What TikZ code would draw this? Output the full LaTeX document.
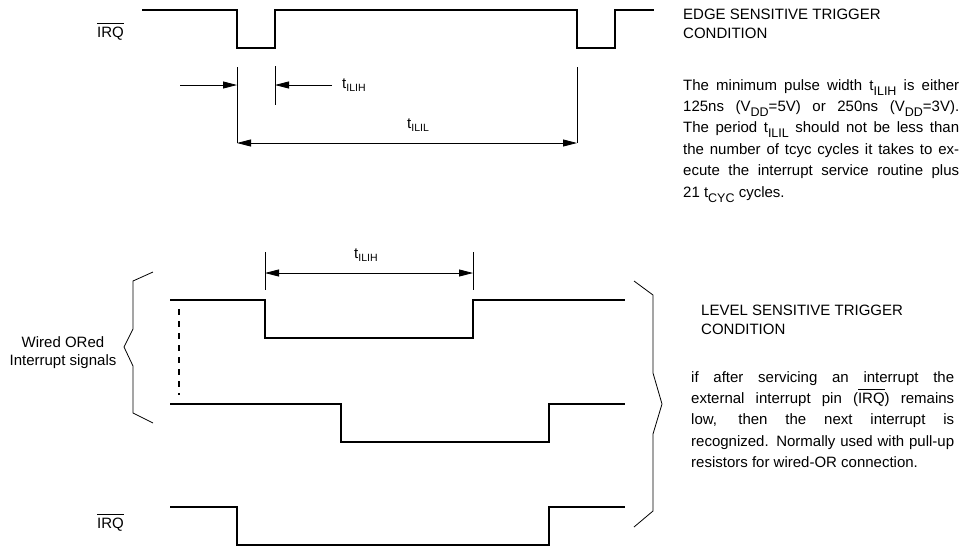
\documentclass[tikz,border=0pt]{standalone}
\usepackage{fontspec}
\setmainfont{Liberation Sans}
\usetikzlibrary{arrows.meta}
\newcommand\ovl[1]{\leavevmode\vbox{\hrule height 0.8pt\kern 3.2pt\hbox{#1}}}
\newcommand\lsub[1]{\raisebox{-3pt}{\fontsize{10.5}{10.5}\selectfont #1}}
\newcommand\psub[1]{\raisebox{-5pt}{\fontsize{12.5}{12.5}\selectfont #1}}
\begin{document}
\begin{tikzpicture}[x=1pt,y=-1pt,
  wave/.style={line width=1.7pt, line join=miter, line cap=butt},
  dim/.style={line width=0.8pt},
  arr/.style={dim,-{Triangle[length=14pt,width=7pt]}},
  darr/.style={dim,{Triangle[length=14pt,width=7pt]}-{Triangle[length=14pt,width=7pt]}},
  brace/.style={line width=0.8pt, line join=miter},
  lbl/.style={inner sep=0pt, font=\fontsize{15}{19}\selectfont},
  para/.style={inner sep=0pt, anchor=north west, align=justify, font=\fontsize{15}{21.4}\selectfont}]
\useasboundingbox (0,0) rectangle (962,550);

% ---------- edge sensitive ----------
\draw[wave] (142,10) -- (237,10) -- (237,48) -- (275,48) -- (275,10) -- (577,10) -- (577,48) -- (615,48) -- (615,10) -- (654,10);
\node[lbl, anchor=base west] (irqa) at (97,37) {\ovl{IRQ}};

\coordinate (ta1) at (237,67);  \coordinate (ta2) at (237,143);
\coordinate (tb1) at (275,66);  \coordinate (tb2) at (275,105);
\coordinate (tc1) at (577,67);  \coordinate (tc2) at (577,143);
\draw[dim] (ta1) -- (ta2);
\draw[dim] (tb1) -- (tb2);
\draw[dim] (tc1) -- (tc2);
\coordinate (al) at (180,85); \coordinate (ae) at (237,85);
\coordinate (ar) at (332,85); \coordinate (be) at (275,85);
\draw[arr] (al) -- (ae);
\draw[arr] (ar) -- (be);
\draw[darr] (ta2) -- (tc2);
\node[lbl, anchor=base west] (tilih1) at (342,88) {t\lsub{ILIH}};
\node[lbl, anchor=base west] (tilil) at (407,128) {t\lsub{ILIL}};

\node[lbl, anchor=base west] (h1a) at (683,19) {EDGE SENSITIVE TRIGGER};
\node[lbl, anchor=base west] (h1b) at (683,38) {CONDITION};
\node[para, text width=276pt] (p1) at (683,79) {The minimum pulse width t\psub{ILIH} is either\linebreak
125ns (V\psub{DD}=5V) or 250ns (V\psub{DD}=3V).\linebreak
The period t\psub{ILIL} should not be less than\linebreak
the number of tcyc cycles it takes to ex-\linebreak
ecute the interrupt service routine plus\linebreak
21 t\psub{CYC} cycles.};

% ---------- level sensitive ----------
\coordinate (da1) at (265,252); \coordinate (da2) at (265,290);
\coordinate (db1) at (473,252); \coordinate (db2) at (473,290);
\draw[dim] (da1) -- (da2);
\draw[dim] (db1) -- (db2);
\coordinate (dl) at (265,273); \coordinate (dr) at (473,273);
\draw[darr] (dl) -- (dr);
\node[lbl, anchor=base west] (tilih2) at (354,258) {t\lsub{ILIH}};

\draw[wave] (170,300) -- (265,300) -- (265,338) -- (473,338) -- (473,300) -- (625,300);
\draw[wave] (170,404) -- (341,404) -- (341,442) -- (549,442) -- (549,404) -- (625,404);
\draw[wave] (170,507) -- (237,507) -- (237,545) -- (549,545) -- (549,507) -- (625,507);
\draw[line width=1.3pt, dash pattern=on 6pt off 6pt] (179,309) -- (179,395);

\draw[brace] (153,272) -- (133,281) -- (133,329) -- (124,347) -- (133,366) -- (133,413) -- (153,423);
\draw[brace] (634,281) -- (653,295) -- (653,373) -- (662,404) -- (653,434) -- (653,511) -- (634,527);

\node[lbl, anchor=base] (w1) at (63,347) {Wired ORed};
\node[lbl, anchor=base] (w2) at (63,365) {Interrupt signals};
\node[lbl, anchor=base west] (irqb) at (97,528) {\ovl{IRQ}};

\node[lbl, anchor=base west] (h2a) at (701,315) {LEVEL SENSITIVE TRIGGER};
\node[lbl, anchor=base west] (h2b) at (701,334) {CONDITION};
\node[para, text width=263pt] (p2) at (691,371) {if after servicing an interrupt the\linebreak
external interrupt pin (\ovl{IRQ}) remains\linebreak
low, then the next interrupt is\linebreak
recognized. Normally used with pull-up\linebreak
resistors for wired-OR connection.};
\end{tikzpicture}
\end{document}
